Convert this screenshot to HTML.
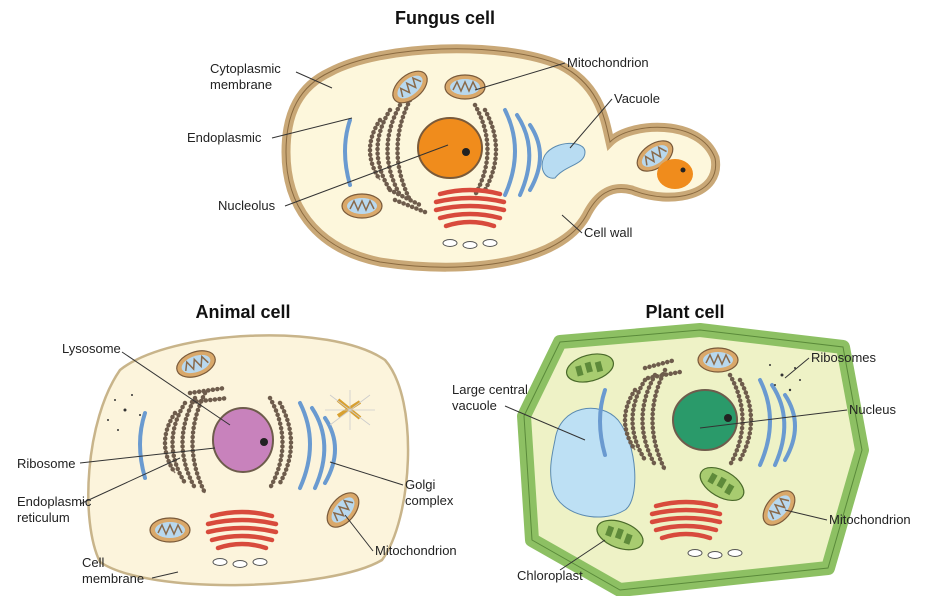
<!DOCTYPE html>
<html><head><meta charset="utf-8"><style>
body{margin:0;background:#fff;}
svg{display:block;}
text{font-family:"Liberation Sans",Arial,sans-serif;font-size:13px;fill:#222;}
.t{font-size:18px;font-weight:bold;fill:#111;}
.l{stroke:#333;stroke-width:1;fill:none;}
.er{fill:none;stroke:#6e5c4c;stroke-width:4.5;stroke-dasharray:0.1 4.5;stroke-linecap:round;}
.er2{fill:none;stroke:#8a7a6a;stroke-width:1.5;}
.bl{fill:none;stroke:#6a9ad0;stroke-width:4;stroke-linecap:round;}
.gg{fill:none;stroke:#d84a3c;stroke-width:4.5;stroke-linecap:round;}
</style></head><body>
<svg width="940" height="596" viewBox="0 0 940 596">
<defs>
<g id="mito"><ellipse cx="0" cy="0" rx="20" ry="12" fill="#d9a86a" stroke="#7a5a3a" stroke-width="1.2"/><ellipse cx="0" cy="0" rx="15" ry="8" fill="#b8d8ee"/><path d="M-12,3 L-8,-5 L-4,4 L0,-5 L4,4 L8,-5 L12,3" stroke="#8a6a4a" stroke-width="1.5" fill="none"/></g>
<g id="golgi"><path class="gg" d="M-30,-14 Q0,-22 30,-14"/><path class="gg" d="M-34,-6 Q0,-14 34,-6"/><path class="gg" d="M-34,2 Q0,-6 34,2"/><path class="gg" d="M-30,10 Q0,2 30,10"/><path class="gg" d="M-24,18 Q0,10 24,18"/></g>
<g id="ves"><ellipse cx="-20" cy="0" rx="7" ry="3.5" fill="#fff" stroke="#555"/><ellipse cx="0" cy="2" rx="7" ry="3.5" fill="#fff" stroke="#555"/><ellipse cx="20" cy="0" rx="7" ry="3.5" fill="#fff" stroke="#555"/></g>
<g id="erp">
<path d="M-45,-45 Q-70,0 -45,45"/><path d="M-35,-50 Q-60,0 -35,50"/><path d="M-55,-40 Q-80,0 -55,40"/><path d="M-65,-30 Q-85,0 -65,30"/>
<path d="M30,-45 Q55,0 30,45"/><path d="M40,-40 Q62,0 40,40"/>
</g>
<g id="erg">
<use href="#erp" class="er2"/><use href="#erp" class="er"/>
<path class="bl" d="M-95,-30 Q-105,0 -95,35"/><path class="bl" d="M60,-40 Q80,0 60,45"/><path class="bl" d="M72,-35 Q95,0 75,45"/><path class="bl" d="M85,-25 Q105,5 85,40"/>
</g>
<g id="chl"><ellipse cx="0" cy="0" rx="24" ry="13" fill="#a8cc70" stroke="#4a6a2a" stroke-width="1.2"/><g fill="#5e8a3a"><rect x="-14" y="-5" width="6" height="10"/><rect x="-4" y="-6" width="6" height="10"/><rect x="6" y="-4" width="6" height="10"/></g></g>
</defs>

<text class="t" x="445" y="24" text-anchor="middle">Fungus cell</text>
<path d="M330,72 C380,45 500,40 560,65 C600,85 605,120 610,142 C630,122 700,118 715,158 C722,195 672,206 632,190 C610,184 596,196 586,216 C560,262 470,276 380,262 C312,248 286,202 286,152 C286,112 300,86 330,72 Z" fill="#fdf7dc" stroke="#c9a877" stroke-width="9"/>
<path d="M330,72 C380,45 500,40 560,65 C600,85 605,120 610,142 C630,122 700,118 715,158 C722,195 672,206 632,190 C610,184 596,196 586,216 C560,262 470,276 380,262 C312,248 286,202 286,152 C286,112 300,86 330,72 Z" fill="none" stroke="#8a6a40" stroke-width="1"/>
<use href="#erg" x="445" y="150"/>
<ellipse cx="450" cy="148" rx="32" ry="30" fill="#f08c1c" stroke="#7a5a3a" stroke-width="2"/>
<circle cx="466" cy="152" r="4" fill="#222"/>
<use href="#mito" x="410" y="87" transform="rotate(-40 410 87)"/>
<use href="#mito" x="465" y="87"/>
<use href="#mito" x="362" y="206"/>
<use href="#golgi" x="470" y="208"/>
<use href="#ves" x="470" y="243"/>
<path class="er" d="M390,190 L420,205 M395,200 L425,212"/>
<path d="M545,155 C555,140 585,140 585,152 C585,165 565,165 555,178 C545,180 538,168 545,155 Z" fill="#b8dcf2" stroke="#5a8ab0"/>
<use href="#mito" x="655" y="156" transform="rotate(-35 655 156)"/>
<ellipse cx="675" cy="174" rx="18" ry="15" fill="#f08c1c"/><circle cx="683" cy="170" r="2.5" fill="#222"/>
<text x="210" y="73">Cytoplasmic</text><text x="210" y="89">membrane</text>
<path class="l" d="M296,72 L332,88"/>
<text x="567" y="67">Mitochondrion</text><path class="l" d="M565,63 L475,90"/>
<text x="614" y="103">Vacuole</text><path class="l" d="M612,99 L570,148"/>
<text x="187" y="142">Endoplasmic</text><path class="l" d="M272,138 L352,118"/>
<text x="218" y="210">Nucleolus</text><path class="l" d="M285,206 L448,145"/>
<text x="584" y="237">Cell wall</text><path class="l" d="M582,233 L562,215"/>

<text class="t" x="243" y="318" text-anchor="middle">Animal cell</text>
<path d="M120,370 C170,330 330,322 385,360 C420,400 412,520 382,560 C332,590 150,596 100,562 C80,522 85,420 120,370 Z" fill="#fcf4dc" stroke="#c8b48a" stroke-width="2.5"/>
<use href="#erg" x="240" y="443"/>
<ellipse cx="243" cy="440" rx="30" ry="32" fill="#c882bc" stroke="#6e5c4c" stroke-width="2"/>
<circle cx="264" cy="442" r="4" fill="#222"/>
<use href="#mito" x="196" y="364" transform="rotate(-20 196 364)"/>
<use href="#mito" x="170" y="530"/>
<use href="#mito" x="343" y="510" transform="rotate(-50 343 510)"/>
<use href="#golgi" x="242" y="530"/>
<use href="#ves" x="240" y="562"/>
<path class="er" d="M190,393 L225,388 M192,402 L228,398"/>
<g stroke="#d8a030" stroke-width="4"><path d="M338,400 L360,418"/><path d="M338,416 L360,402"/></g>
<g stroke="#ccc" stroke-width="0.8"><path d="M330,395 L370,425 M330,425 L370,395 M350,390 L350,430 M325,410 L375,410"/></g>
<g fill="#333"><circle cx="115" cy="400" r="1"/><circle cx="125" cy="410" r="1.5"/><circle cx="108" cy="420" r="1"/><circle cx="132" cy="395" r="1"/><circle cx="118" cy="430" r="1"/><circle cx="140" cy="415" r="1"/></g>
<text x="62" y="353">Lysosome</text><path class="l" d="M122,352 L230,425"/>
<text x="17" y="468">Ribosome</text><path class="l" d="M80,463 L215,448"/>
<text x="17" y="506">Endoplasmic</text><text x="17" y="522">reticulum</text><path class="l" d="M80,504 L180,458"/>
<text x="82" y="567">Cell</text><text x="82" y="583">membrane</text><path class="l" d="M152,578 L178,572"/>
<text x="405" y="489">Golgi</text><text x="405" y="505">complex</text><path class="l" d="M403,485 L330,462"/>
<text x="375" y="555">Mitochondrion</text><path class="l" d="M373,551 L345,515"/>

<text class="t" x="685" y="318" text-anchor="middle">Plant cell</text>
<polygon points="560,342 700,330 843,347 862,450 828,568 620,590 532,540 524,416" fill="#eef2c6" stroke="#8dc063" stroke-width="14" stroke-linejoin="round"/>
<polygon points="560,342 700,330 843,347 862,450 828,568 620,590 532,540 524,416" fill="none" stroke="#5a8a3a" stroke-width="1"/>
<path d="M555,440 C560,405 600,400 618,420 C638,445 640,500 625,510 C600,525 560,515 553,490 C548,470 552,455 555,440 Z" fill="#bde0f4" stroke="#5a8ab0"/>
<use href="#erg" x="700" y="420"/>
<ellipse cx="705" cy="420" rx="32" ry="30" fill="#2a9a6a" stroke="#6e5c4c" stroke-width="2"/>
<circle cx="728" cy="418" r="4" fill="#222"/>
<use href="#chl" x="590" y="368" transform="rotate(-15 590 368)"/>
<use href="#chl" x="722" y="484" transform="rotate(30 722 484)"/>
<use href="#chl" x="620" y="535" transform="rotate(20 620 535)"/>
<use href="#mito" x="718" y="360"/>
<use href="#mito" x="779" y="508" transform="rotate(-50 779 508)"/>
<use href="#golgi" x="686" y="520"/>
<use href="#ves" x="715" y="553"/>
<path class="er" d="M645,368 L675,360 M648,378 L680,372"/>
<g fill="#333"><circle cx="770" cy="365" r="1"/><circle cx="782" cy="375" r="1.5"/><circle cx="795" cy="368" r="1"/><circle cx="775" cy="385" r="1"/><circle cx="790" cy="390" r="1.2"/><circle cx="800" cy="380" r="1"/></g>
<text x="811" y="362">Ribosomes</text><path class="l" d="M809,358 L785,378"/>
<text x="452" y="394">Large central</text><text x="452" y="410">vacuole</text><path class="l" d="M505,406 L585,440"/>
<text x="849" y="414">Nucleus</text><path class="l" d="M847,410 L700,428"/>
<text x="829" y="524">Mitochondrion</text><path class="l" d="M827,520 L785,510"/>
<text x="517" y="580">Chloroplast</text><path class="l" d="M560,570 L605,540"/>
</svg>
</body></html>
